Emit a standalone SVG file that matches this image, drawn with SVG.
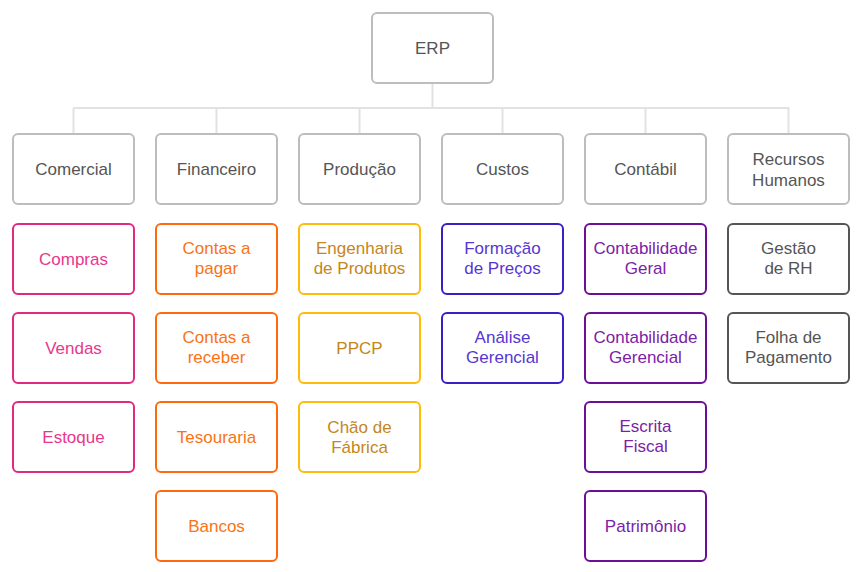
<svg xmlns="http://www.w3.org/2000/svg" width="857" height="572" viewBox="0 0 857 572">
<style>
rect{fill:#fff;stroke-width:2}
text{font-family:"Liberation Sans",Arial,sans-serif;font-size:17px;text-anchor:middle}
.g rect{stroke:#bdbdbd}.g text{fill:#555}
.pk rect{stroke:#e3287f}.pk text{fill:#e8378c}
.or rect{stroke:#fd6a0d}.or text{fill:#f97316}
.ye rect{stroke:#fdbb0c}.ye text{fill:#c5861c}
.bl rect{stroke:#3c1fc2}.bl text{fill:#5636d3}
.pu rect{stroke:#6b0f98}.pu text{fill:#7b22a6}
.dk rect{stroke:#555}.dk text{fill:#555}
.c{stroke:#e2e2e2;stroke-width:2;fill:none}
</style>
<rect x="0" y="0" width="857" height="572" fill="#fff" stroke="none"/>
<g id="connectors">
<path class="c" d="M432.5 83V108M73.5 108H789.5M73.5 108V134M216.5 108V134M359.5 108V134M502.5 108V134M645.5 108V134M788.5 108V134"/>
</g>
<g id="erp" class="g"><rect x="372" y="13" width="121" height="70" rx="5"/><text x="432.5" y="54">ERP</text></g>
<g id="comercial" class="g"><rect x="13" y="134" width="121" height="70" rx="5"/><text x="73.5" y="175">Comercial</text></g>
<g id="financeiro" class="g"><rect x="156" y="134" width="121" height="70" rx="5"/><text x="216.5" y="175">Financeiro</text></g>
<g id="producao" class="g"><rect x="299" y="134" width="121" height="70" rx="5"/><text x="359.5" y="175">Produção</text></g>
<g id="custos" class="g"><rect x="442" y="134" width="121" height="70" rx="5"/><text x="502.5" y="175">Custos</text></g>
<g id="contabil" class="g"><rect x="585" y="134" width="121" height="70" rx="5"/><text x="645.5" y="175">Contábil</text></g>
<g id="rh" class="g"><rect x="728" y="134" width="121" height="70" rx="5"/><text x="788.5" y="165">Recursos</text><text x="788.5" y="186">Humanos</text></g>

<g id="compras" class="pk"><rect x="13" y="224" width="121" height="70" rx="5"/><text x="73.5" y="265">Compras</text></g>
<g id="vendas" class="pk"><rect x="13" y="313" width="121" height="70" rx="5"/><text x="73.5" y="354">Vendas</text></g>
<g id="estoque" class="pk"><rect x="13" y="402" width="121" height="70" rx="5"/><text x="73.5" y="443">Estoque</text></g>

<g id="contas-pagar" class="or"><rect x="156" y="224" width="121" height="70" rx="5"/><text x="216.5" y="254">Contas a</text><text x="216.5" y="274">pagar</text></g>
<g id="contas-receber" class="or"><rect x="156" y="313" width="121" height="70" rx="5"/><text x="216.5" y="343">Contas a</text><text x="216.5" y="363">receber</text></g>
<g id="tesouraria" class="or"><rect x="156" y="402" width="121" height="70" rx="5"/><text x="216.5" y="443">Tesouraria</text></g>
<g id="bancos" class="or"><rect x="156" y="491" width="121" height="70" rx="5"/><text x="216.5" y="532">Bancos</text></g>

<g id="engenharia" class="ye"><rect x="299" y="224" width="121" height="70" rx="5"/><text x="359.5" y="254">Engenharia</text><text x="359.5" y="274">de Produtos</text></g>
<g id="ppcp" class="ye"><rect x="299" y="313" width="121" height="70" rx="5"/><text x="359.5" y="354">PPCP</text></g>
<g id="chao" class="ye"><rect x="299" y="402" width="121" height="70" rx="5"/><text x="359.5" y="433">Chão de</text><text x="359.5" y="453">Fábrica</text></g>

<g id="formacao" class="bl"><rect x="442" y="224" width="121" height="70" rx="5"/><text x="502.5" y="254">Formação</text><text x="502.5" y="274">de Preços</text></g>
<g id="analise" class="bl"><rect x="442" y="313" width="121" height="70" rx="5"/><text x="502.5" y="343">Análise</text><text x="502.5" y="363">Gerencial</text></g>

<g id="cont-geral" class="pu"><rect x="585" y="224" width="121" height="70" rx="5"/><text x="645.5" y="254">Contabilidade</text><text x="645.5" y="274">Geral</text></g>
<g id="cont-gerencial" class="pu"><rect x="585" y="313" width="121" height="70" rx="5"/><text x="645.5" y="343">Contabilidade</text><text x="645.5" y="363">Gerencial</text></g>
<g id="escrita" class="pu"><rect x="585" y="402" width="121" height="70" rx="5"/><text x="645.5" y="432">Escrita</text><text x="645.5" y="452">Fiscal</text></g>
<g id="patrimonio" class="pu"><rect x="585" y="491" width="121" height="70" rx="5"/><text x="645.5" y="532">Patrimônio</text></g>

<g id="gestao-rh" class="dk"><rect x="728" y="224" width="121" height="70" rx="5"/><text x="788.5" y="254">Gestão</text><text x="788.5" y="274">de RH</text></g>
<g id="folha" class="dk"><rect x="728" y="313" width="121" height="70" rx="5"/><text x="788.5" y="343">Folha de</text><text x="788.5" y="363">Pagamento</text></g>
</svg>
